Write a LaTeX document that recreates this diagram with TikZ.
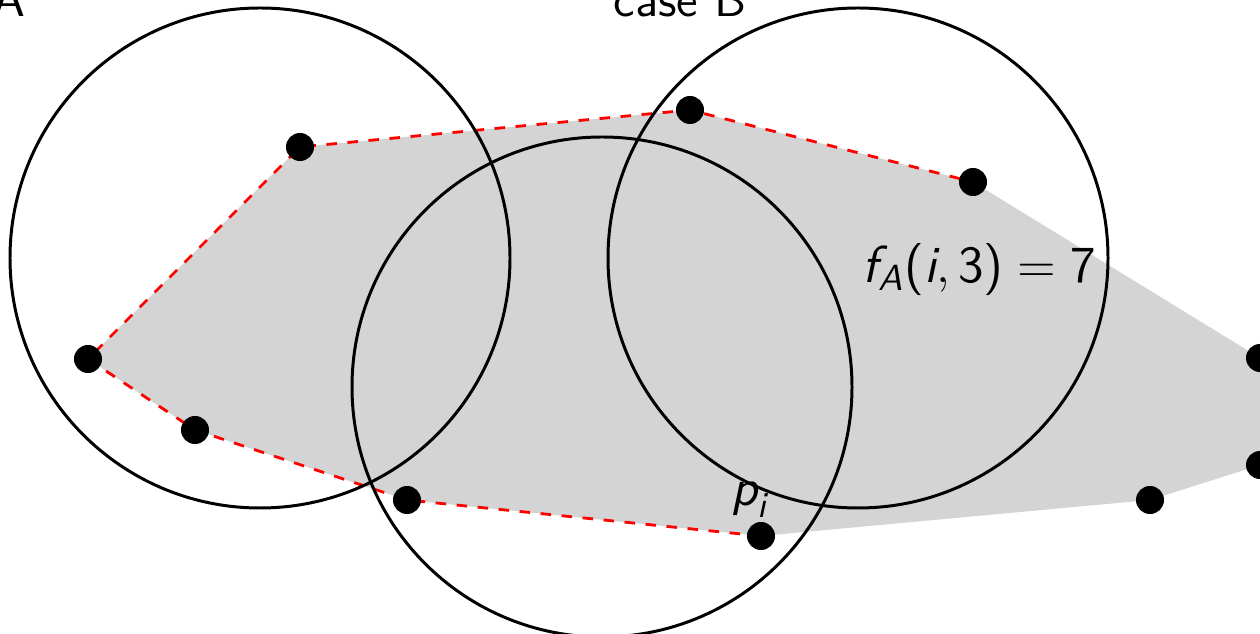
\documentclass[tikz,border=0pt]{standalone}
\usepackage{amsmath}
\usetikzlibrary{arrows.meta, positioning}

\newcommand{\svar}[1]{\textsf{\itshape #1}}
\newcommand{\snum}[1]{\textsf{#1}}

\tikzset{
  pt/.style={circle, fill=black, inner sep=0pt, minimum size=0.28cm},
  hulledge/.style={red, dashed, line width=0.8pt},
  disk/.style={line width=0.85pt},
  lbl/.style={font=\fontsize{14}{16}\selectfont\sffamily},
  bigmath/.style={font=\fontsize{14.8}{17}\selectfont\sffamily}
}

\begin{document}
\begin{tikzpicture}[x=0.01cm, y=-0.01cm]
  \useasboundingbox (0,0) rectangle (1260,634);
  \clip (0,0) rectangle (1260,634);
  % points
  \coordinate (a) at (300,147);
  \coordinate (b) at (690,110);
  \coordinate (c) at (973,182);
  \coordinate (d) at (1260,358);
  \coordinate (e) at (1260,465);
  \coordinate (f) at (1150,500);
  \coordinate (g) at (761,536);
  \coordinate (h) at (407,500);
  \coordinate (k) at (195,430);
  \coordinate (l) at (88,359);
  % hull
  \fill[black!17] (a) -- (b) -- (c) -- (d) -- (e) -- (f) -- (g) -- (h) -- (k) -- (l) -- cycle;
  \draw[hulledge] (g) -- (h) -- (k) -- (l) -- (a) -- (b) -- (c);
  % disks
  \draw[disk] (260,258) circle (250);
  \draw[disk] (602,387) circle (250);
  \draw[disk] (858,258) circle (250);
  \foreach \p in {a,b,c,d,e,f,g,h,k,l} \node[pt] (n\p) at (\p) {};
  % labels
  \node[lbl, anchor=base east, inner sep=0pt] (caseA) at (26,17) {case A};
  \node[lbl, anchor=base, inner sep=0pt] (caseB) at (680,17) {case B};
  \node[bigmath, anchor=base, inner sep=0pt] (pi) at (750,506) {$\svar{p}_{\svar{i}}$};
  \node[bigmath, anchor=base west, inner sep=0pt] (fA) at (862,283)
    {$\svar{f}_{\svar{A}}\snum{(}\svar{i},\snum{3}\snum{)} = \snum{7}$};
\end{tikzpicture}
\end{document}
